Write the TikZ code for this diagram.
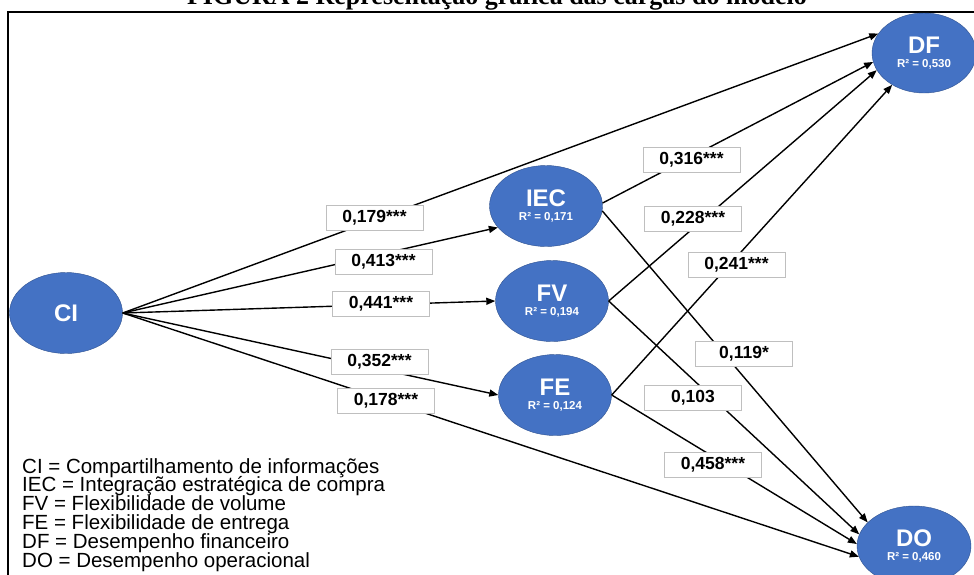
\documentclass[tikz,border=0pt]{standalone}
\usepackage{fontspec}
\setmainfont{Liberation Serif}
\setsansfont{Liberation Sans}
\usetikzlibrary{shapes.geometric, arrows.meta}
\definecolor{latentfill}{HTML}{4472C4}
\definecolor{latentdraw}{HTML}{2F528F}

\begin{document}
\begin{tikzpicture}[
    x=1pt,
    y=-1pt,
    latent/.style={
      ellipse,
      fill=latentfill,
      draw=latentdraw,
      text=white,
      minimum width=113pt,
      minimum height=81pt,
      inner sep=0,
      align=center,
      font=\sffamily\bfseries\fontsize{24}{14}\selectfont
    },
    carga/.style={draw=black!25, fill=white, rectangle, minimum width=97pt, minimum height=25pt,
      inner sep=0, font=\sffamily\bfseries\fontsize{17.5}{17.5}\selectfont},
    seta/.style={-{Triangle[length=9pt, width=7pt]}, line width=1.4pt}]
   \useasboundingbox (0,0) rectangle (974,574);
   \draw[line width=2pt] (8,600) -- (8,12) -- (1000,12);
   \node(titulo) at (497,4) [anchor=base, font=\rmfamily\bfseries\fontsize{26}{26}\selectfont]
     {FIGURA 2 Representação gráfica das cargas do modelo};

   \path
     node(CI)  at ( 66,313)  [latent] {CI}
     node(IEC) at (546,206)  [latent] {IEC\\\fontsize{11.5}{14}\selectfont R² = 0,171}
     node(FV)  at (552,301)  [latent] {FV\\\fontsize{11.5}{14}\selectfont R² = 0,194}
     node(FE)  at (555,395)  [latent] {FE\\\fontsize{11.5}{14}\selectfont R² = 0,124}
     node(DF)  at (924, 53)  [latent, minimum width=104pt, minimum height=80pt]
       {DF\\\fontsize{11.5}{14}\selectfont R² = 0,530}
     node(DO)  at (914,546)  [latent, minimum width=114pt, minimum height=80pt]
       {DO\\\fontsize{11.5}{14}\selectfont R² = 0,460};

   \begin{scope}[seta]
     \draw (CI.east) -- (DF.157);
     \draw (CI.east) -- (IEC.204);
     \draw (CI.east) -- (FV.west);
     \draw (CI.east) -- (FE.west);
     \draw (CI.east) -- (DO.191);
     \draw (IEC.3) -- (DF.190);
     \draw (IEC.-5) -- (DO.153);
     \draw (FV.east) -- (DF.200);
     \draw (FV.east) -- (DO.168);
     \draw (FE.east) -- (DF.225);
     \draw (FE.east) -- (DO.178);
   \end{scope}

   \path
     node(c1)  at (374.5,217.5) [carga] {0,179***}
     node(c2)  at (383.5,261.5) [carga] {0,413***}
     node(c3)  at (381,303.5)   [carga] {0,441***}
     node(c4)  at (379.5,361.5) [carga] {0,352***}
     node(c5)  at (386,400.5)   [carga] {0,178***}
     node(c6)  at (691.5,159.5) [carga] {0,316***}
     node(c7)  at (693,219)     [carga] {0,228***}
     node(c8)  at (736.5,264.5) [carga] {0,241***}
     node(c9)  at (744,353.5)   [carga] {0,119*}
     node(c10) at (693,397.5)   [carga] {0,103}
     node(c11) at (713,464.5)   [carga] {0,458***};

   \node(legenda) at (22,458) [anchor=north west, align=left, inner sep=0,
     font={\sffamily\fontsize{20.5}{18.8}\selectfont\setlength{\lineskiplimit}{-10pt}}]
     {CI = Compartilhamento de informações\\
      IEC = Integração estratégica de compra\\
      FV = Flexibilidade de volume\\
      FE = Flexibilidade de entrega\\
      DF = Desempenho financeiro\\
      DO = Desempenho operacional};
  \end{tikzpicture}
\end{document}
